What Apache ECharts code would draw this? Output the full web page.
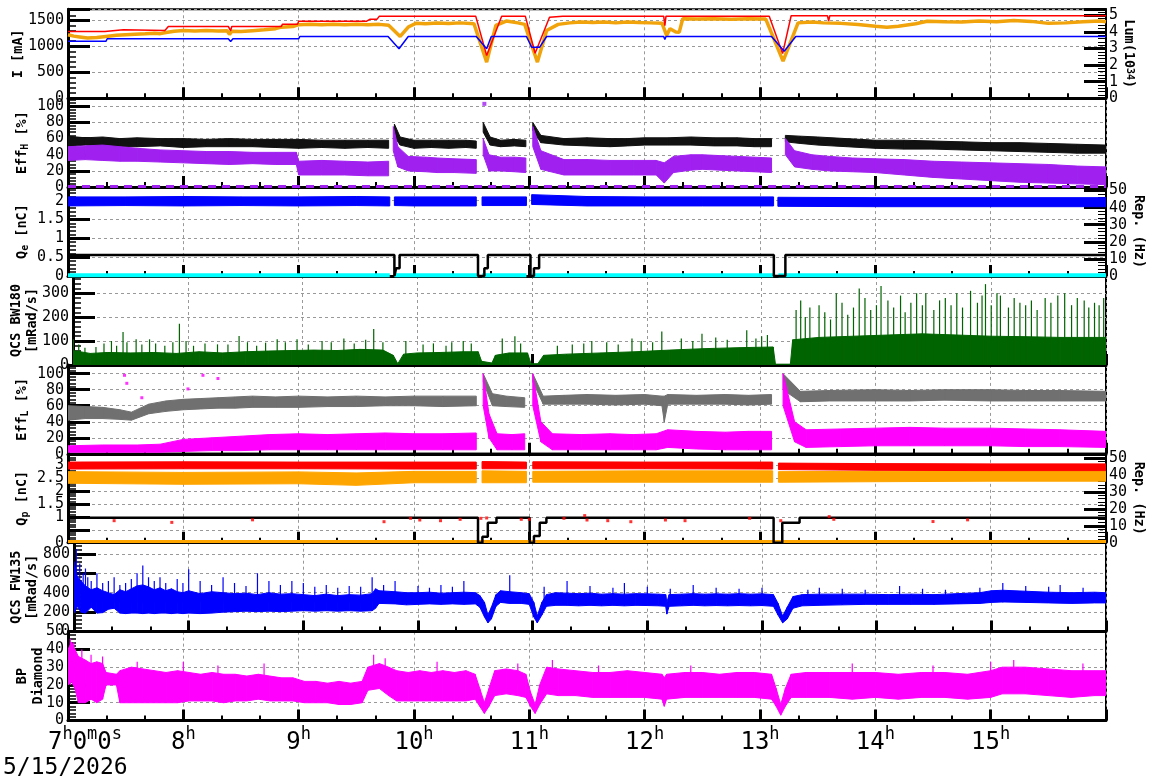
<!DOCTYPE html>
<html>
<head>
<meta charset="utf-8">
<script src="https://cdn.jsdelivr.net/npm/echarts@6.0.0/dist/echarts.min.js"></script>
<style>
  html, body { margin: 0; padding: 0; background: #fff; }
  #chart { width: 1172px; height: 782px; }
</style>
</head>
<body>
<div id="chart"></div>
<script>
// ---- data (time in hours of the day) ----
const hourTicks = [7, 8, 9, 10, 11, 12, 13, 14, 15];

// panel 1: currents [mA] and luminosity [1e34]
const curRed = [[7.00,1287],[7.32,1287],[7.33,1320],[7.48,1320],[7.49,1306],[7.84,1306],[7.87,1384],[8.39,1384],[8.41,1300],[8.42,1384],[8.85,1384],[8.86,1428],[8.99,1428],[9.00,1486],[9.59,1486],[9.62,1525],[9.68,1525],[9.70,1583],[10.535,1583],[10.63,824],[10.76,1583],[10.965,1583],[11.05,868],[11.175,1563],[11.29,1583],[12.165,1583],[12.175,1400],[12.185,1583],[13.08,1583],[13.196,860],[13.27,1590],[13.585,1590],[13.595,1486],[13.605,1590],[16.0,1590]];
const curBlue = [[7.00,1100],[7.33,1100],[7.34,1146],[8.39,1146],[8.41,1094],[8.43,1146],[9.00,1146],[9.01,1190],[9.775,1190],[9.87,953],[9.95,1190],[10.54,1190],[10.63,953],[10.67,1190],[10.975,1190],[11.02,984],[11.09,984],[11.15,1190],[12.165,1190],[12.175,1133],[12.185,1190],[13.10,1190],[13.21,907],[13.31,1190],[16.0,1190]];
const lumi = [[7.00,3.83],[7.05,3.75],[7.10,3.70],[7.17,3.63],[7.25,3.66],[7.33,3.73],[7.42,3.80],[7.50,3.83],[7.58,3.86],[7.67,3.89],[7.75,3.92],[7.80,3.90],[7.85,3.97],[7.92,4.05],[8.00,4.09],[8.10,4.06],[8.20,4.09],[8.30,4.06],[8.38,4.08],[8.40,3.85],[8.42,4.05],[8.50,4.03],[8.60,4.08],[8.70,4.13],[8.80,4.20],[8.85,4.29],[8.95,4.33],[9.00,4.44],[9.10,4.46],[9.20,4.43],[9.30,4.47],[9.40,4.44],[9.50,4.46],[9.60,4.43],[9.70,4.46],[9.78,4.40],[9.88,3.73],[9.95,4.30],[10.02,4.53],[10.10,4.50],[10.20,4.54],[10.30,4.51],[10.40,4.55],[10.52,4.50],[10.63,2.18],[10.71,4.40],[10.80,4.66],[10.90,4.55],[10.96,4.46],[11.07,2.18],[11.15,4.09],[11.25,4.46],[11.35,4.55],[11.45,4.60],[11.55,4.57],[11.65,4.60],[11.75,4.55],[11.85,4.60],[11.95,4.57],[12.05,4.55],[12.15,4.53],[12.19,3.79],[12.22,4.20],[12.27,4.00],[12.30,3.99],[12.33,4.80],[12.45,4.78],[12.60,4.80],[12.75,4.77],[12.90,4.80],[13.05,4.78],[13.20,2.24],[13.33,4.55],[13.45,4.60],[13.55,4.55],[13.70,4.52],[13.85,4.45],[14.00,4.35],[14.10,4.29],[14.20,4.35],[14.35,4.50],[14.45,4.65],[14.60,4.62],[14.75,4.60],[14.90,4.66],[15.05,4.62],[15.20,4.70],[15.35,4.64],[15.50,4.52],[15.65,4.55],[15.80,4.62],[15.95,4.66],[16.00,4.62]];

// panel 2: Eff_H [%], point clouds as [t, low, high]
const effHBlack = [[7.00,50,63],[7.15,52,61],[7.3,51,62],[7.45,50,60],[7.6,50,61],[7.8,51,60],[8.0,49,60],[8.2,50,59],[8.4,50,60],[8.6,50,59],[8.8,49,59],[9.0,48,59],[9.2,49,58],[9.4,48,58],[9.6,49,58],[9.78,48,58],null,[9.83,62,78],[9.88,52,62],[10.0,48,58],[10.15,49,58],[10.3,48,58],[10.45,49,58],[10.54,48,57],null,[10.6,68,80],[10.66,52,62],[10.75,50,58],[10.87,51,59],[10.97,50,58],null,[11.03,70,80],[11.1,55,64],[11.3,52,60],[11.5,51,61],[11.7,50,60],[11.85,51,60],[12.0,52,61],[12.2,52,61],[12.4,52,62],[12.6,51,61],[12.8,51,61],[12.95,50,60],[13.1,50,60],null,[13.22,56,64],[13.35,54,63],[13.5,52,62],[13.75,50,60],[14.0,48,58],[14.25,47,58],[14.5,47,57],[14.75,46,56],[15.0,45,55],[15.25,44,55],[15.5,43,54],[15.75,42,53],[16.0,42,52]];
const effHPurple = [[7.0,33,50],[7.15,34,51],[7.3,33,52],[7.45,32,50],[7.6,32,48],[7.8,31,46],[8.0,30,45],[8.2,29,44],[8.4,28,44],[8.6,29,43],[8.8,28,43],[8.98,28,43],[9.0,15,32],[9.2,15,33],[9.4,15,32],[9.6,14,31],[9.78,14,32],null,[9.82,45,75],[9.86,25,50],[9.95,20,38],[10.1,19,37],[10.2,18,36],[10.35,18,35],[10.54,17,34],null,[10.6,40,60],[10.65,20,40],[10.75,20,37],[10.87,19,37],[10.97,18,36],null,[11.03,50,75],[11.1,22,45],[11.3,15,34],[11.5,15,34],[11.7,15,33],[11.9,15,33],[12.1,15,33],[12.17,5,30],[12.25,18,38],[12.4,21,40],[12.5,22,40],[12.65,21,39],[12.8,20,38],[12.95,19,37],[13.1,18,36],null,[13.22,40,60],[13.3,25,45],[13.45,22,40],[13.6,20,38],[13.8,19,36],[14.0,18,35],[14.25,15,34],[14.5,12,32],[14.75,10,31],[15.0,8,30],[15.25,6,29],[15.5,5,28],[15.75,4,26],[16.0,3,25]];
const effHZero = [[7.0,0.8],[16.0,0.8]];
const effHOut = [[10.61,103]];

// panel 3: Q_e [nC] cloud, rep. rate [Hz] steps, zero line
const qeBlue = [[7.0,1.86,2.10],[7.5,1.87,2.10],[8.0,1.86,2.11],[8.5,1.87,2.10],[9.0,1.86,2.10],[9.5,1.87,2.11],[9.79,1.86,2.10],null,[9.83,1.87,2.10],[10.0,1.86,2.10],[10.54,1.86,2.10],null,[10.59,1.87,2.10],[10.975,1.87,2.10],null,[11.02,1.90,2.16],[11.5,1.86,2.11],[12.0,1.86,2.10],[12.5,1.86,2.10],[13.118,1.86,2.10],null,[13.155,1.85,2.09],[14.0,1.84,2.08],[15.0,1.84,2.08],[16.0,1.84,2.08]];
const repE = [[7,12.3],[9.83,12.3],[9.83,0],[9.845,0],[9.845,4.5],[9.875,4.5],[9.875,12.3],[10.555,12.3],[10.555,0],[10.61,0],[10.61,4.5],[10.64,4.5],[10.64,12.3],[11.01,12.3],[11.01,0],[11.04,0],[11.04,4.5],[11.085,4.5],[11.085,12.3],[13.12,12.3],[13.12,0],[13.22,0],[13.22,12.3],[16,12.3]];
const qeZero = [[7,0.02],[9.79,0.02],null,[9.83,0.02],[10.555,0.02],null,[10.59,0.02],[10.975,0.02],null,[11.025,0.02],[13.115,0.02],null,[13.16,0.02],[16,0.02]];

// panel 4: QCS BW180 [mRad/s] body [t, low, high] and spikes [t, peak]
const bwBody = [[7.00,0,60],[7.15,0,48],[7.3,0,52],[7.5,0,50],[7.7,0,52],[7.9,0,48],[8.1,0,55],[8.3,0,50],[8.5,0,55],[8.7,0,58],[8.9,0,60],[9.1,0,62],[9.3,0,60],[9.5,0,65],[9.7,0,62],[9.79,0,40],[9.83,0,5],[9.88,0,45],[10.0,0,50],[10.2,0,52],[10.4,0,55],[10.53,0,55],[10.56,0,15],[10.65,0,8],[10.68,0,40],[10.8,0,50],[10.96,0,50],[10.99,0,5],[11.05,0,5],[11.1,0,40],[11.3,0,45],[11.6,0,50],[11.9,0,55],[12.2,0,62],[12.5,0,68],[12.8,0,72],[13.1,0,75],[13.12,0,3],[13.25,0,3],[13.27,0,105],[13.5,0,115],[13.8,0,120],[14.1,0,125],[14.4,0,130],[14.7,0,125],[15.0,0,120],[15.3,0,118],[15.6,0,115],[16.0,0,115]];
const bwSpikes = [[7.003,107],[7.05,85],[7.104,72],[7.2,75],[7.27,90],[7.335,100],[7.38,80],[7.436,138],[7.47,95],[7.55,107],[7.6,85],[7.667,107],[7.72,90],[7.8,80],[7.87,95],[7.927,172],[7.985,100],[8.05,80],[8.15,90],[8.259,86],[8.35,85],[8.447,121],[8.52,95],[8.6,80],[8.678,93],[8.779,107],[8.85,95],[8.952,107],[9.05,85],[9.17,100],[9.25,95],[9.36,110],[9.45,90],[9.55,105],[9.62,150],[9.7,95],[9.9,100],[10.05,85],[10.14,90],[10.25,80],[10.3,95],[10.4,100],[10.47,90],[10.74,110],[10.85,120],[10.9,90],[11.22,80],[11.35,85],[11.45,90],[11.52,100],[11.65,95],[11.75,85],[11.87,110],[11.95,100],[12.05,95],[12.13,140],[12.3,110],[12.4,100],[12.48,130],[12.6,115],[12.7,105],[12.87,145],[12.95,110],[13.0,120],[13.05,125],[13.3,230],[13.34,270],[13.38,200],[13.42,240],[13.5,250],[13.55,220],[13.6,190],[13.65,300],[13.7,260],[13.75,210],[13.8,240],[13.85,320],[13.9,280],[13.95,230],[14.0,250],[14.04,330],[14.1,270],[14.15,240],[14.21,290],[14.25,220],[14.3,260],[14.35,300],[14.4,250],[14.43,300],[14.5,230],[14.55,270],[14.6,280],[14.65,250],[14.7,300],[14.75,240],[14.82,310],[14.88,260],[14.92,290],[14.95,338],[15.0,250],[15.05,300],[15.08,290],[15.15,240],[15.2,280],[15.25,260],[15.3,250],[15.35,270],[15.4,230],[15.47,280],[15.52,260],[15.58,290],[15.64,300],[15.7,250],[15.75,280],[15.81,270],[15.85,240],[15.9,260],[15.94,250],[15.98,280]];

// panel 5: Eff_L [%]
const effLGray = [[7.0,42,60],[7.15,44,59],[7.3,44,58],[7.45,43,55],[7.55,42,52],[7.7,50,62],[7.85,53,66],[8.0,55,68],[8.15,56,69],[8.3,57,70],[8.45,57,71],[8.6,58,72],[8.8,58,71],[9.0,58,72],[9.25,59,71],[9.5,59,72],[9.75,60,71],[10.0,60,72],[10.25,59,72],[10.54,60,72],null,[10.6,90,100],[10.68,60,75],[10.8,59,72],[10.96,58,70],null,[11.03,90,100],[11.12,62,72],[11.3,62,73],[11.5,62,74],[11.75,61,73],[12.0,62,74],[12.15,60,72],[12.17,40,72],[12.2,62,74],[12.45,62,73],[12.7,62,74],[12.9,61,73],[13.1,62,74],null,[13.2,80,100],[13.35,65,78],[13.6,66,79],[14.0,66,80],[14.3,66,79],[14.6,67,80],[15.0,66,80],[15.3,66,79],[15.6,66,79],[16.0,66,78]];
const effLMag = [[7.0,2,10],[7.3,2,11],[7.6,2,11],[7.8,2,12],[8.0,3,18],[8.25,4,20],[8.5,4,22],[8.75,5,24],[9.0,5,25],[9.25,5,24],[9.5,5,25],[9.75,5,26],[10.0,5,25],[10.25,5,25],[10.54,5,26],null,[10.6,60,100],[10.65,20,50],[10.72,5,25],[10.85,5,24],[10.96,5,25],null,[11.03,60,100],[11.1,15,40],[11.2,5,25],[11.45,5,24],[11.7,5,25],[11.9,5,24],[12.1,5,25],[12.2,8,30],[12.45,6,28],[12.7,5,27],[12.9,5,28],[13.1,5,28],null,[13.2,60,100],[13.3,15,40],[13.4,8,30],[13.7,9,31],[14.0,10,32],[14.3,10,33],[14.6,10,32],[15.0,10,32],[15.3,9,31],[15.6,9,30],[16.0,8,28]];
const effLOut = [[7.49,98],[7.51,88],[8.17,98],[8.30,94],[8.04,81],[7.64,70]];

// panel 6: Q_p [nC] clouds, rep. rate [Hz]
const qpRed = [[7.0,2.85,3.12],[8.0,2.86,3.13],[9.0,2.86,3.12],[10.0,2.85,3.12],[10.54,2.85,3.12],null,[10.59,2.86,3.14],[10.975,2.86,3.12],null,[11.03,2.86,3.13],[12.0,2.86,3.12],[13.11,2.85,3.12],null,[13.16,2.83,3.08],[14.0,2.80,3.06],[15.0,2.79,3.05],[16.0,2.79,3.05]];
const qpOrange = [[7.0,2.30,2.75],[8.0,2.26,2.72],[9.0,2.28,2.74],[9.5,2.22,2.70],[10.0,2.32,2.76],[10.54,2.32,2.76],null,[10.59,2.32,2.78],[10.975,2.32,2.76],null,[11.03,2.34,2.76],[12.0,2.34,2.78],[13.11,2.34,2.78],null,[13.16,2.34,2.75],[14.0,2.36,2.76],[15.0,2.38,2.78],[16.0,2.38,2.78]];
const repP = [[7,14.8],[10.555,14.8],[10.555,0],[10.593,0],[10.593,3.5],[10.64,3.5],[10.64,11.8],[10.715,11.8],[10.715,14.8],[11.003,14.8],[11.003,0],[11.04,0],[11.04,4],[11.09,4],[11.09,11.8],[11.148,11.8],[11.148,14.8],[13.118,14.8],[13.118,0],[13.193,0],[13.193,11.8],[13.343,11.8],[13.343,14.8],[16,14.8]];
const repPRed = [[9.74,12.4],[9.97,14.4],[10.05,13.4],[10.23,13.0],[10.4,13.8],[10.58,14.4],[10.63,14.6],[10.93,13.8],[11.0,13.8],[11.3,14.4],[11.48,16],[11.5,13.4],[11.68,13],[11.88,12.4],[12.18,13.4],[12.35,13],[12.91,14.4],[13.18,13],[13.6,15.4],[13.64,13.8],[7.4,13],[7.9,12],[8.6,13.5],[14.5,12.5],[14.8,13.5]];
const qpZero = [[7,0.05],[16,0.05]];

// panel 7: QCS FW135 [mRad/s]
const fwBody = [[7.00,190,720],[7.03,260,560],[7.06,200,520],[7.10,190,470],[7.15,250,430],[7.20,190,450],[7.25,195,420],[7.30,230,400],[7.35,240,380],[7.40,190,430],[7.45,185,410],[7.50,190,440],[7.55,190,470],[7.60,185,480],[7.65,190,460],[7.70,185,430],[7.75,190,450],[7.80,190,420],[7.85,185,440],[7.90,190,410],[7.95,185,400],[8.00,190,420],[8.10,185,390],[8.20,190,410],[8.30,200,400],[8.40,205,390],[8.50,210,395],[8.60,205,380],[8.70,210,400],[8.80,205,385],[8.90,210,390],[9.00,215,380],[9.10,210,370],[9.20,215,385],[9.30,210,370],[9.40,215,380],[9.50,210,375],[9.60,215,390],[9.63,240,440],[9.66,290,420],[9.80,285,410],[9.90,275,400],[10.00,280,400],[10.10,285,405],[10.20,280,395],[10.30,285,400],[10.40,280,405],[10.50,285,400],[10.54,250,370],[10.58,150,300],[10.61,90,170],[10.64,130,250],[10.68,260,380],[10.72,300,420],[10.80,290,410],[10.90,290,400],[10.97,280,390],[11.01,150,300],[11.04,90,160],[11.08,170,300],[11.12,260,380],[11.20,270,400],[11.30,270,395],[11.40,265,390],[11.50,270,395],[11.60,265,385],[11.70,270,390],[11.80,265,385],[11.90,270,390],[12.00,268,388],[12.10,265,385],[12.16,260,380],[12.17,180,300],[12.19,260,380],[12.30,265,385],[12.40,270,390],[12.50,265,385],[12.60,268,388],[12.70,265,385],[12.80,268,390],[12.90,265,385],[13.00,268,388],[13.10,260,380],[13.14,170,290],[13.18,90,160],[13.22,130,250],[13.27,240,360],[13.35,265,380],[13.50,270,385],[13.70,275,385],[13.90,280,385],[14.10,280,380],[14.30,280,385],[14.50,280,380],[14.70,285,390],[14.90,290,400],[15.00,300,420],[15.10,305,425],[15.30,300,415],[15.50,295,405],[15.70,290,400],[15.90,295,405],[16.00,295,400]];
const fwSpikes = [[7.02,850],[7.05,700],[7.08,600],[7.1,650],[7.12,560],[7.15,520],[7.2,600],[7.25,500],[7.3,520],[7.35,560],[7.4,480],[7.45,500],[7.5,540],[7.55,600],[7.6,680],[7.65,560],[7.7,520],[7.75,560],[7.8,500],[7.9,540],[7.95,500],[8.0,640],[8.1,520],[8.2,480],[8.3,560],[8.4,500],[8.5,470],[8.6,600],[8.7,520],[8.8,480],[8.9,520],[9.0,500],[9.1,460],[9.2,480],[9.3,450],[9.4,470],[9.5,460],[9.6,560],[9.7,480],[9.8,520],[10.0,470],[10.1,450],[10.2,480],[10.3,460],[10.4,520],[10.8,580],[11.1,460],[11.3,520],[11.5,470],[11.7,450],[11.8,500],[12.0,460],[12.2,440],[12.4,480],[12.6,450],[12.8,440],[13.0,450],[13.4,430],[13.5,450],[13.7,440],[13.9,430],[14.2,470],[14.4,440],[14.6,430],[14.9,450],[15.1,500],[15.3,470],[15.5,460],[15.6,480],[15.8,450]];

// panel 8: BP Diamond
const bpBody = [[7.00,20,40],[7.03,22,44],[7.06,18,40],[7.09,10,36],[7.15,10,34],[7.20,12,32],[7.25,10,33],[7.30,12,32],[7.33,20,27],[7.42,20,26],[7.45,10,28],[7.55,10,30],[7.65,10,29],[7.75,10,28],[7.85,10,27],[7.95,10,28],[8.05,11,27],[8.15,11,26],[8.25,11,27],[8.35,10,26],[8.45,11,26],[8.55,11,25],[8.65,12,26],[8.75,11,25],[8.85,11,24],[8.95,11,24],[9.05,10,22],[9.15,10,22],[9.25,10,21],[9.35,9,22],[9.45,9,21],[9.55,10,22],[9.60,17,30],[9.70,18,32],[9.78,14,30],[9.85,11,28],[9.95,11,27],[10.05,11,28],[10.15,11,27],[10.25,11,28],[10.35,11,27],[10.45,11,28],[10.53,12,26],[10.57,8,18],[10.61,4,10],[10.65,8,18],[10.70,14,28],[10.80,15,29],[10.90,14,28],[10.97,13,26],[11.01,8,16],[11.05,4,9],[11.09,9,20],[11.15,15,30],[11.25,14,29],[11.40,14,28],[11.55,13,27],[11.70,13,27],[11.85,13,28],[12.00,13,27],[12.15,12,26],[12.17,8,24],[12.19,12,26],[12.35,13,27],[12.50,13,27],[12.65,13,26],[12.80,13,27],[12.95,13,27],[13.10,12,26],[13.14,8,18],[13.18,3,9],[13.22,8,18],[13.27,13,26],[13.40,13,27],[13.60,13,27],[13.80,12,27],[14.00,13,27],[14.20,12,26],[14.40,13,27],[14.60,13,27],[14.80,12,26],[15.00,13,28],[15.10,15,30],[15.30,15,30],[15.50,14,29],[15.70,13,28],[15.90,14,28],[16.00,14,28]];
const bpSpikes = [[7.02,46],[7.05,44],[7.12,40],[7.2,37],[7.3,36],[7.6,33],[8.0,33],[8.3,31],[8.7,32],[9.65,37],[9.75,35],[10.2,33],[10.9,32],[11.2,34],[11.6,31],[12.4,31],[13.8,32],[14.5,31],[15.0,33],[15.2,34],[15.8,32]];

// ---- layout ----
const mono = 'DejaVu Sans Mono';
const TOP = 9.3, PH = 88.9, LEFT = 68, RIGHT = 66;
const panels = [
  { name: 'I [mA]', max: 1715, interval: 500, gap: 42 },
  { name: 'Eff{sub|H} [%]', max: 110, interval: 20, gap: 38 },
  { name: 'Q{sub|e} [nC]', max: 2.36, interval: 0.5, gap: 38 },
  { name: 'QCS BW180\n[mRad/s]', max: 372, interval: 100, gap: 33 },
  { name: 'Eff{sub|L} [%]', max: 111, interval: 20, gap: 38 },
  { name: 'Q{sub|p} [nC]', max: 3.44, interval: 0.5, gap: 38 },
  { name: 'QCS FW135\n[mRad/s]', max: 914, interval: 200, gap: 34 },
  { name: 'BP\nDiamond', max: 50, interval: 10, gap: 22, showMax: true }
];
const rightAxes = [
  { grid: 0, name: 'Lum(10{sup|34})', max: 5.37, interval: 1, gap: 15 },
  { grid: 2, name: 'Rep. (Hz)', max: 52, interval: 10, gap: 25 },
  { grid: 5, name: 'Rep. (Hz)', max: 52.5, interval: 10, gap: 25 }
];

const nameRich = {
  sub: { fontFamily: mono, fontWeight: 'bold', fontSize: 10, verticalAlign: 'bottom', lineHeight: 10 },
  sup: { fontFamily: mono, fontWeight: 'bold', fontSize: 10, verticalAlign: 'top', lineHeight: 10 }
};
const numLabel = v => String(v);

const grids = panels.map((p, i) => ({
  left: LEFT, right: RIGHT, top: TOP + i * PH, height: PH,
  show: true, borderColor: '#000', borderWidth: 2
}));

const xAxes = panels.map((p, i) => ({
  type: 'value', gridIndex: i, min: 7, max: 16, interval: 1,
  axisLine: { show: true, onZero: false, lineStyle: { color: '#000', width: 3 } },
  axisTick: { show: true, inside: true, length: 11, lineStyle: { color: '#000', width: 3 } },
  minorTick: { show: true, splitNumber: 3, length: 5, lineStyle: { color: '#000', width: 2 } },
  splitLine: { show: true, lineStyle: { color: '#999', type: [3, 3], width: 1 } },
  axisLabel: {
    show: i === panels.length - 1, margin: 6, color: '#000', fontFamily: mono, fontSize: 24,
    formatter: v => v === 7 ? '{f|7}{s|h}{b|0}{s|m}{b|0}{s|s}' : (v >= 16 ? '' : '{b|' + v + '}{s|h}'),
    rich: {
      f: { fontFamily: mono, fontSize: 24, lineHeight: 28, verticalAlign: 'bottom', padding: [0, 0, 0, 34] },
      b: { fontFamily: mono, fontSize: 24, lineHeight: 28, verticalAlign: 'bottom' },
      s: { fontFamily: mono, fontSize: 17, lineHeight: 17, verticalAlign: 'top' }
    }
  }
}));

function yAxisBase(grid, max, interval, tickW) {
  return {
    type: 'value', gridIndex: grid, min: 0, max, interval,
    axisLine: { show: true, onZero: false, lineStyle: { color: '#000', width: 3 } },
    axisTick: { show: true, inside: true, length: 22, lineStyle: { color: '#000', width: 3 } },
    minorTick: { show: true, splitNumber: 5, length: 8, lineStyle: { color: '#000', width: tickW } },
    nameLocation: 'middle', nameRotate: 90, nameMoveOverlap: false
  };
}

const yAxes = panels.map((p, i) => Object.assign(yAxisBase(i, p.max, p.interval, 1.5), {
  position: 'left', name: p.name, nameGap: p.gap,
  nameTextStyle: { fontFamily: mono, fontWeight: 'bold', fontSize: 13.5, color: '#000', lineHeight: 16, rich: nameRich },
  splitLine: { show: true, lineStyle: { color: '#999', type: [3, 3], width: 1 } },
  axisLabel: { color: '#000', fontFamily: mono, fontSize: 15, margin: 4, formatter: numLabel, showMaxLabel: !!p.showMax, showMinLabel: true }
}));
rightAxes.forEach(r => {
  yAxes.push(Object.assign(yAxisBase(r.grid, r.max, r.interval, 1), {
    position: 'right', name: r.name, nameGap: r.gap, nameRotate: -90,
    nameTextStyle: { fontFamily: mono, fontWeight: 'bold', fontSize: 13.5, color: '#000', rich: nameRich },
    axisLine: { show: true, onZero: false, lineStyle: { color: '#000', width: 2 } },
    splitLine: { show: false },
    axisLabel: { color: '#000', fontFamily: mono, fontSize: 15, margin: 3, formatter: numLabel, showMaxLabel: false, showMinLabel: true }
  }));
});

// ---- series builders ----
function gaps(pts) {
  const out = [];
  pts.forEach((p, i) => out.push(p ? p : [pts[i - 1][0], '-']));
  return out;
}
function line(pts, color, width, g, y, extra) {
  return Object.assign({
    type: 'line', xAxisIndex: g, yAxisIndex: y, data: gaps(pts), showSymbol: false, symbol: 'none',
    lineStyle: { color, width }, itemStyle: { color }, silent: true, connectNulls: false, z: 3
  }, extra || {});
}
function band(pts, color, g, y, z) {
  const segs = [];
  for (let i = 0; i < pts.length - 1; i++) {
    const a = pts[i], b = pts[i + 1];
    if (a && b) segs.push([a[0], a[1], a[2], b[0], b[1], b[2]]);
  }
  return {
    type: 'custom', xAxisIndex: g, yAxisIndex: y, silent: true, clip: true, z: z || 2,
    encode: { x: [0, 3], y: [1, 2, 4, 5] }, data: segs,
    renderItem: (params, api) => {
      const pa = api.coord([api.value(0), api.value(1)]);
      const pb = api.coord([api.value(3), api.value(4)]);
      const pc = api.coord([api.value(3), api.value(5)]);
      const pd = api.coord([api.value(0), api.value(2)]);
      return { type: 'polygon', shape: { points: [pa, pb, pc, pd] }, style: { fill: color, stroke: color, lineWidth: 1 } };
    }
  };
}
function spikes(pts, base, color, g, y) {
  return {
    type: 'custom', xAxisIndex: g, yAxisIndex: y, silent: true, clip: true, z: 2,
    encode: { x: 0, y: 1 }, data: pts,
    renderItem: (params, api) => {
      const p0 = api.coord([api.value(0), base]);
      const p1 = api.coord([api.value(0), api.value(1)]);
      return { type: 'line', shape: { x1: p0[0], y1: p0[1], x2: p1[0], y2: p1[1] }, style: { stroke: color, lineWidth: 1.2 } };
    }
  };
}
function dots(pts, color, g, y, size) {
  return { type: 'scatter', xAxisIndex: g, yAxisIndex: y, data: pts, symbol: 'rect', symbolSize: size || 3,
    itemStyle: { color }, silent: true, z: 4 };
}

const series = [
  line(lumi, '#f0a30a', 3.5, 0, 8),
  line(curRed, '#ff0000', 1.5, 0, 0),
  line(curBlue, '#0000ff', 1.5, 0, 0),

  band(effHBlack, '#111', 1, 1),
  band(effHPurple, '#a020f0', 1, 1),
  line(effHZero, '#a020f0', 3, 1, 1, { lineStyle: { color: '#a020f0', width: 3, type: [8, 6] } }),
  dots(effHOut, '#a020f0', 1, 1, 4),

  band(qeBlue, '#0000ff', 2, 2),
  line(qeZero, '#00ffff', 4, 2, 2),
  line(repE, '#000', 2.5, 2, 9),

  band(bwBody, '#006400', 3, 3),
  spikes(bwSpikes, 0, '#006400', 3, 3),

  band(effLGray, '#707070', 4, 4),
  band(effLMag, '#ff00ff', 4, 4),
  dots(effLOut, '#ff00ff', 4, 4, 3),

  band(qpOrange, '#ffa500', 5, 5),
  band(qpRed, '#ff0000', 5, 5),
  line(qpZero, '#ffa500', 3, 5, 5),
  line(repP, '#000', 2.5, 5, 10),
  dots(repPRed, '#ff0000', 5, 10, 3),

  band(fwBody, '#0000ff', 6, 6),
  spikes(fwSpikes, 300, '#0000ff', 6, 6),

  band(bpBody, '#ff00ff', 7, 7),
  spikes(bpSpikes, 20, '#ff00ff', 7, 7)
];

const chart = echarts.init(document.getElementById('chart'), null, { renderer: 'canvas' });
chart.setOption({
  animation: false,
  backgroundColor: '#fff',
  grid: grids,
  xAxis: xAxes,
  yAxis: yAxes,
  series,
  graphic: [{
    type: 'text', left: 3, top: 757,
    style: { text: '5/15/2026', font: '23px "DejaVu Sans Mono"', fill: '#000' }
  }]
});
</script>
</body>
</html>
